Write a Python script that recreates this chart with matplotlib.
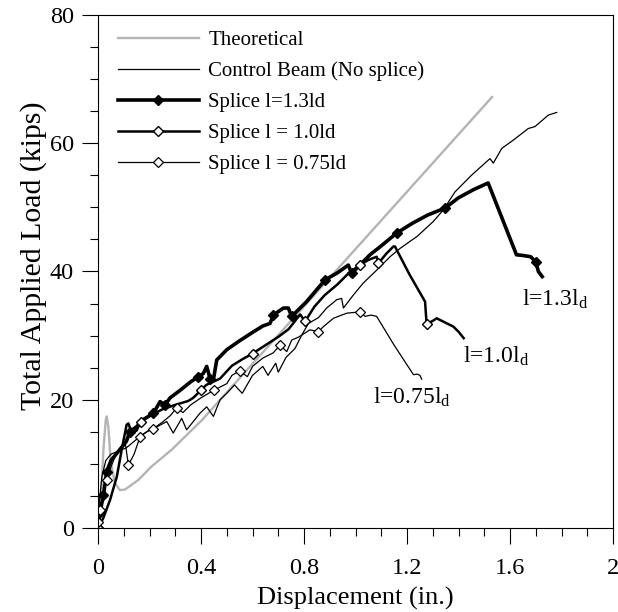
import numpy as np
import matplotlib
matplotlib.use("Agg")
import matplotlib.pyplot as plt

plt.rcParams['font.family'] = ['Liberation Serif', 'DejaVu Serif']
plt.rcParams['mathtext.fontset'] = 'custom'
plt.rcParams['mathtext.rm'] = 'Liberation Serif'
plt.rcParams['mathtext.it'] = 'Liberation Serif:italic'

# theoretical curve
theo_x = [0, 0.006, 0.012, 0.021, 0.03, 0.034, 0.04, 0.05, 0.066, 0.085, 0.105,
          0.157, 0.208, 0.286, 0.403, 1.53]
theo_y = [0, 2.0, 4.9, 12.2, 16.8, 17.4, 15.8, 10.1, 7.0, 5.9, 6.0,
          7.5, 9.6, 12.2, 16.8, 67.2]

# control beam (no splice)
ctrl_x = [0, 0.005, 0.015, 0.03, 0.05, 0.08, 0.11, 0.14, 0.17, 0.2, 0.23, 0.267,
          0.292, 0.325, 0.344, 0.396, 0.422, 0.448, 0.474, 0.5, 0.53, 0.56, 0.6,
          0.64, 0.66, 0.69, 0.70, 0.73, 0.765, 0.79, 0.817, 0.856, 0.888, 0.927,
          0.946, 0.953, 0.991, 1.03, 1.082, 1.134, 1.173, 1.24, 1.302, 1.341,
          1.386, 1.45, 1.522, 1.535, 1.568, 1.613, 1.671, 1.697, 1.749, 1.781]
ctrl_y = [0, 4.0, 8.0, 10.5, 11.5, 12.0, 12.5, 13.5, 14.5, 15.3, 15.8, 16.6,
          14.8, 17.1, 15.3, 17.9, 18.9, 17.4, 20.0, 21.0, 22.3, 21.0, 23.8,
          25.2, 23.8, 25.7, 24.3, 26.6, 28.0, 30.0, 31.9, 32.8, 34.3, 35.6,
          35.8, 34.3, 36.3, 38.2, 40.2, 42.3, 43.6, 45.5, 47.8, 49.6,
          52.4, 55.0, 57.6, 56.9, 59.2, 60.5, 62.3, 62.6, 64.4, 64.8]

# splice l = 1.3ld
s13_x = [0, 0.008, 0.021, 0.034, 0.05, 0.07, 0.09, 0.11, 0.124, 0.15, 0.18, 0.215,
         0.241, 0.26, 0.28, 0.32, 0.36, 0.39, 0.409, 0.422, 0.435, 0.448, 0.461,
         0.5, 0.55, 0.6, 0.64, 0.668, 0.681, 0.72, 0.739, 0.752, 0.81, 0.85,
         0.882, 0.93, 0.972, 0.985, 1.056, 1.1, 1.16, 1.22, 1.28, 1.348, 1.40,
         1.46, 1.515, 1.625, 1.65, 1.68, 1.70, 1.71, 1.725]
s13_y = [0, 2.5, 5.1, 8.8, 10.5, 11.5, 12.5, 13.5, 15.0, 15.8, 17.0, 17.9,
         19.7, 19.2, 20.3, 21.5, 22.8, 23.6, 24.1, 25.2, 23.3, 23.1, 26.2,
         27.8, 29.2, 30.5, 31.5, 31.9, 33.2, 34.3, 34.3, 33.0, 35.3, 37.2,
         38.7, 39.8, 41.0, 39.7, 42.6, 44.0, 46.0, 47.5, 48.8, 49.9, 51.5,
         52.8, 53.8, 42.6, 42.5, 42.3, 41.5, 40.0, 39.2]
s13_marks = [0, 1, 2, 3, 8, 11, 13, 17, 20, 28, 31, 34, 37, 40, 43, 50]

# splice l = 1.0ld
s10_x = [0, 0.02, 0.047, 0.073, 0.092, 0.111, 0.118, 0.131, 0.15, 0.165, 0.2,
         0.25, 0.3, 0.35, 0.37, 0.40, 0.42, 0.474, 0.52, 0.56, 0.6, 0.65, 0.70,
         0.74, 0.785, 0.804, 0.84, 0.88, 0.93, 0.975, 1.017, 1.05, 1.082,
         1.089, 1.12, 1.147, 1.153, 1.21, 1.27, 1.276, 1.30, 1.315, 1.35,
         1.38, 1.40, 1.42]
s10_y = [0, 1.5, 4.4, 8.0, 12.2, 16.1, 16.3, 14.8, 15.2, 16.5, 17.5,
         18.5, 19.2, 19.8, 20.3, 21.5, 22.3, 23.3, 25.3, 26.3, 27.2, 28.5, 29.8,
         31.0, 33.3, 32.2, 34.5, 36.3, 38.0, 39.8, 41.0, 41.8, 42.3,
         41.3, 42.8, 43.9, 43.9, 39.5, 35.3, 31.8, 32.3, 32.7, 32.0,
         31.4, 30.6, 29.6]
s10_marks = [0, 9, 15, 20, 25, 30, 33, 39]

# splice l = 0.75ld
s075_x = [0, 0.001, 0.008, 0.02, 0.034, 0.05, 0.07, 0.09, 0.105, 0.118, 0.14,
          0.163, 0.19, 0.215, 0.25, 0.28, 0.305, 0.33, 0.36, 0.4, 0.45, 0.5,
          0.52, 0.55, 0.58, 0.6, 0.64, 0.68, 0.707, 0.733, 0.752, 0.78, 0.823,
          0.856, 0.875, 0.914, 0.966, 1.017, 1.037, 1.06, 1.082, 1.15, 1.225,
          1.24, 1.25, 1.257]
s075_y = [0, 1.0, 2.8, 5.5, 7.5, 9.5, 11.5, 12.5, 13.5, 9.8, 11.5,
          14.2, 15.0, 15.5, 16.5, 17.5, 18.7, 18.0, 19.2, 20.3, 21.5, 22.5,
          23.8, 24.5, 23.6, 25.2, 26.5, 27.3, 28.5, 27.5, 29.3, 29.8, 30.9,
          30.6, 31.4, 32.7, 33.5, 33.7, 33.0, 33.2, 33.0, 28.5, 23.9,
          24.0, 23.8, 23.2]
s075_marks = [1, 2, 4, 9, 11, 13, 16, 20, 23, 28, 33, 37]

fig = plt.figure(figsize=(6.18, 6.12), dpi=100)
ax = fig.add_axes([0.1586, 0.1373, 0.8334, 0.8382])

ax.plot(theo_x, theo_y, color='#b4b4b4', lw=1.7, label='Theoretical')
ax.plot(ctrl_x, ctrl_y, color='black', lw=0.9, label='Control Beam (No splice)')
ax.plot(s13_x, s13_y, color='black', lw=2.6, marker='D', ms=5.5,
        mfc='black', mec='black', markevery=s13_marks, label='Splice l=1.3ld')
ax.plot(s10_x, s10_y, color='black', lw=1.8, marker='D', ms=5.5,
        mfc='white', mec='black', mew=1.0, markevery=s10_marks,
        label='Splice l = 1.0ld')
ax.plot(s075_x, s075_y, color='black', lw=0.9, marker='D', ms=5.5,
        mfc='white', mec='black', mew=0.9, markevery=s075_marks,
        label='Splice l = 0.75ld')

ax.text(1.645, 35.7, r'l=1.3l$_\mathrm{d}$', fontsize=17, ha='left', va='center')
ax.text(1.419, 26.8, r'l=1.0l$_\mathrm{d}$', fontsize=17, ha='left', va='center')
ax.text(1.068, 20.3, r'l=0.75l$_\mathrm{d}$', fontsize=17, ha='left', va='center')

ax.set_xlim(0, 2)
ax.set_ylim(0, 80)
ax.set_xticks([0, 0.4, 0.8, 1.2, 1.6, 2])
ax.set_xticklabels(['0', '0.4', '0.8', '1.2', '1.6', '2'])
ax.set_xticks(np.arange(0, 2.01, 0.1), minor=True)
ax.set_yticks([0, 20, 40, 60, 80])
ax.set_yticks(np.arange(0, 81, 5), minor=True)
ax.tick_params(which='major', direction='out', length=11.5, width=0.8,
               labelsize=17.5, top=False, right=False)
ax.tick_params(axis='x', which='major', pad=10)
ax.tick_params(axis='y', which='major', pad=6)
ax.tick_params(which='minor', direction='out', length=6, width=0.8,
               top=False, right=False)
for sp in ax.spines.values():
    sp.set_linewidth(0.8)

ax.set_xlabel('Displacement (in.)', fontsize=19, labelpad=6)
ax.set_ylabel('Total Applied Load (kips)', fontsize=21.5)
ax.yaxis.set_label_coords(-0.099, 0.53)

ax.legend(loc='upper left', bbox_to_anchor=(0.012, 0.996), frameon=False,
          fontsize=15, handlelength=3.9, handletextpad=0.45,
          labelspacing=0.55, borderaxespad=0.25)

fig.savefig('out.png', dpi=100)
